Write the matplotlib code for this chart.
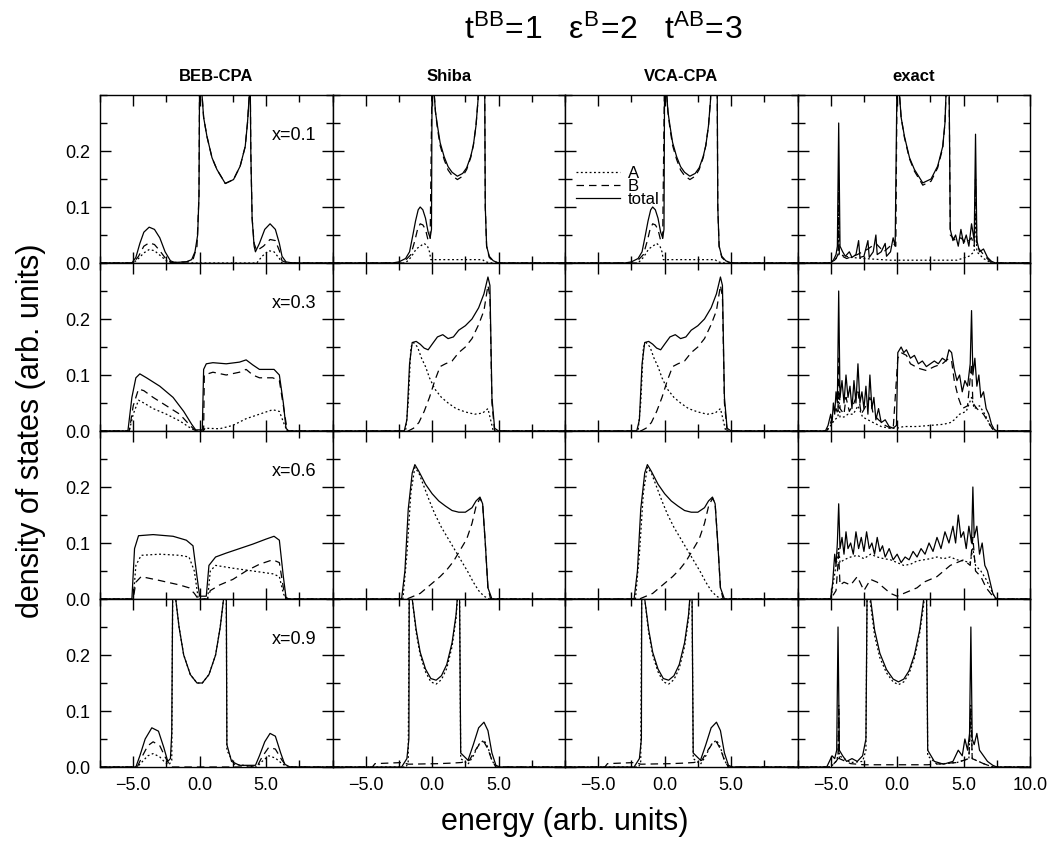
import matplotlib.pyplot as plt
from matplotlib.ticker import MultipleLocator, FixedLocator, NullFormatter

plt.rcParams['font.family'] = ['Liberation Sans', 'DejaVu Sans']
plt.rcParams['mathtext.fontset'] = 'custom'
plt.rcParams['mathtext.rm'] = 'Liberation Sans'
plt.rcParams['mathtext.it'] = 'Liberation Sans'

methods = ['BEB-CPA', 'Shiba', 'VCA-CPA', 'exact']
conc_labels = ['x=0.1', 'x=0.3', 'x=0.6', 'x=0.9']

# density of states, (energy, dos) knots per curve: A, B, total

# --- x = 0.1 ---
beb_01_a = [(-7.5, 0), (-5.0, 0), (-4.6, 0.008), (-4.2, 0.018), (-3.8, 0.024), (-3.4, 0.022),
            (-3.0, 0.014), (-2.5, 0.004), (-2.1, 0), (4.3, 0), (4.7, 0.012), (5.2, 0.022),
            (5.6, 0.02), (6.0, 0.008), (6.2, 0), (10, 0)]
beb_01_b = [(-7.5, 0), (-5.0, 0), (-4.6, 0.012), (-4.2, 0.03), (-3.8, 0.036), (-3.4, 0.033),
            (-3.0, 0.022), (-2.5, 0.006), (-2.1, 0.001), (-1.0, 0.002), (-0.5, 0.006),
            (-0.2, 0.03), (-0.05, 0.12), (0.0, 0.35), (0.18, 0.3), (0.3, 0.26), (0.55, 0.226),
            (0.93, 0.188), (1.3, 0.167), (1.93, 0.142), (2.55, 0.149), (3.05, 0.173),
            (3.43, 0.208), (3.6, 0.25), (3.73, 0.297), (3.8, 0.35), (3.85, 0.2), (3.95, 0.08),
            (4.1, 0.035), (4.3, 0.022), (4.8, 0.03), (5.3, 0.042), (5.7, 0.04), (6.0, 0.022),
            (6.2, 0.004), (6.6, 0), (10, 0)]
beb_01_t = [(-7.5, 0), (-5.1, 0), (-4.8, 0.01), (-4.5, 0.035), (-4.2, 0.055), (-3.8, 0.064),
            (-3.4, 0.06), (-3.0, 0.045), (-2.6, 0.02), (-2.2, 0.004), (-1.9, 0.001),
            (-1.0, 0.002), (-0.6, 0.006), (-0.35, 0.02), (-0.15, 0.05), (-0.05, 0.12),
            (0.0, 0.35), (0.18, 0.3), (0.3, 0.26), (0.55, 0.226), (0.93, 0.188), (1.3, 0.167),
            (1.93, 0.142), (2.55, 0.149), (3.05, 0.173), (3.43, 0.208), (3.6, 0.25),
            (3.73, 0.297), (3.8, 0.35), (3.85, 0.2), (3.95, 0.08), (4.1, 0.03), (4.2, 0.02),
            (4.5, 0.035), (4.9, 0.06), (5.3, 0.07), (5.7, 0.06), (6.0, 0.035), (6.2, 0.012),
            (6.5, 0.002), (7.0, 0), (10, 0)]

shiba_01_a = [(-7.5, 0), (-2.0, 0), (-1.6, 0.01), (-1.2, 0.025), (-0.9, 0.03), (-0.6, 0.035),
              (-0.35, 0.03), (-0.2, 0.02), (-0.1, 0.006), (0.2, 0.006), (3.8, 0.006),
              (4.0, 0.002), (4.5, 0), (10, 0)]
shiba_01_b = [(-7.5, 0), (-2.2, 0), (-1.6, 0.015), (-1.3, 0.04), (-1.1, 0.06), (-0.9, 0.07),
              (-0.7, 0.068), (-0.5, 0.06), (-0.3, 0.04), (-0.15, 0.04), (0.0, 0.35),
              (0.1, 0.32), (0.25, 0.27), (0.4, 0.24), (0.6, 0.21), (0.9, 0.185), (1.2, 0.166),
              (1.5, 0.156), (1.9, 0.149), (2.3, 0.155), (2.6, 0.167), (2.9, 0.188), (3.1, 0.21),
              (3.3, 0.245), (3.45, 0.29), (3.55, 0.35), (3.95, 0.35), (4.0, 0.1), (4.1, 0.03),
              (4.3, 0.01), (4.6, 0.003), (5.0, 0), (10, 0)]
shiba_01_t = [(-7.5, 0), (-3.0, 0), (-2.5, 0.002), (-2.0, 0.008), (-1.7, 0.02), (-1.45, 0.05),
              (-1.25, 0.075), (-1.05, 0.095), (-0.9, 0.1), (-0.7, 0.095), (-0.5, 0.08),
              (-0.3, 0.055), (-0.15, 0.045), (-0.05, 0.06), (0.0, 0.35), (0.1, 0.32),
              (0.25, 0.27), (0.4, 0.245), (0.6, 0.215), (0.9, 0.19), (1.2, 0.172), (1.5, 0.162),
              (1.9, 0.155), (2.3, 0.16), (2.6, 0.17), (2.9, 0.19), (3.1, 0.21), (3.3, 0.245),
              (3.45, 0.29), (3.55, 0.35), (3.95, 0.35), (4.0, 0.1), (4.1, 0.03), (4.3, 0.012),
              (4.6, 0.004), (5.0, 0), (10, 0)]

vca_01_a = shiba_01_a
vca_01_b = shiba_01_b
vca_01_t = shiba_01_t

exact_01_a = [(-7.5, 0), (-5.0, 0), (-4.6, 0.008), (-4.45, 0.015), (-4.4, 0.09), (-4.35, 0.015),
              (-3.5, 0.01), (-2.5, 0.008), (-0.5, 0.005), (4.5, 0.005), (5.4, 0.012),
              (5.8, 0.02), (5.9, 0.09), (6.0, 0.02), (6.5, 0.008), (7.1, 0), (10, 0)]
exact_01_b = [(-7.5, 0), (-4.9, 0), (-4.6, 0.008), (-4.45, 0.015), (-4.4, 0.15), (-4.35, 0.015),
              (-3.8, 0.008), (-3.0, 0.015), (-2.2, 0.025), (-1.6, 0.035), (-1.0, 0.02),
              (-0.3, 0.035), (-0.1, 0.03), (0.0, 0.35), (0.18, 0.3), (0.3, 0.26), (0.55, 0.224),
              (0.93, 0.186), (1.3, 0.164), (1.93, 0.139), (2.55, 0.146), (3.05, 0.17),
              (3.43, 0.205), (3.6, 0.25), (3.75, 0.35), (3.9, 0.35), (4.0, 0.05), (4.4, 0.04),
              (4.8, 0.045), (5.2, 0.035), (5.6, 0.045), (5.8, 0.03), (5.9, 0.15), (6.0, 0.03),
              (6.5, 0.015), (7.1, 0), (10, 0)]
exact_01_t = [(-7.5, 0), (-5.0, 0), (-4.8, 0.005), (-4.6, 0.015), (-4.5, 0.03), (-4.4, 0.25),
              (-4.3, 0.03), (-4.1, 0.02), (-3.9, 0.012), (-3.6, 0.02), (-3.4, 0.01),
              (-3.1, 0.015), (-2.9, 0.04), (-2.8, 0.01), (-2.5, 0.012), (-2.2, 0.04),
              (-2.1, 0.01), (-1.8, 0.02), (-1.6, 0.05), (-1.5, 0.015), (-1.2, 0.02),
              (-0.9, 0.035), (-0.8, 0.012), (-0.5, 0.02), (-0.3, 0.045), (-0.15, 0.03),
              (0.0, 0.35), (0.18, 0.3), (0.3, 0.26), (0.55, 0.226), (0.93, 0.188),
              (1.3, 0.167), (1.93, 0.143), (2.55, 0.15), (3.05, 0.173), (3.43, 0.208),
              (3.6, 0.25), (3.75, 0.35), (3.9, 0.35), (4.0, 0.06), (4.2, 0.04), (4.4, 0.05),
              (4.6, 0.03), (4.8, 0.06), (5.0, 0.035), (5.2, 0.05), (5.4, 0.03), (5.6, 0.07),
              (5.8, 0.04), (5.9, 0.23), (6.0, 0.04), (6.2, 0.02), (6.5, 0.025), (6.8, 0.01),
              (7.1, 0.003), (7.4, 0), (10, 0)]

# --- x = 0.3 ---
beb_03_a = [(-7.5, 0), (-5.3, 0), (-5.0, 0.03), (-4.6, 0.055), (-4.2, 0.05), (-3.5, 0.04),
            (-2.5, 0.03), (-1.5, 0.018), (-0.8, 0.007), (-0.3, 0), (0.3, 0), (0.4, 0.005),
            (1.5, 0.004), (2.5, 0.01), (3.5, 0.022), (4.5, 0.03), (5.5, 0.038), (6.0, 0.035),
            (6.4, 0.01), (6.6, 0), (10, 0)]
beb_03_b = [(-7.5, 0), (-5.3, 0), (-5.0, 0.045), (-4.6, 0.075), (-4.2, 0.072), (-3.5, 0.06),
            (-2.5, 0.045), (-1.5, 0.03), (-0.8, 0.012), (-0.3, 0), (0.3, 0), (0.35, 0.1),
            (1.0, 0.105), (2.0, 0.1), (3.0, 0.105), (3.5, 0.11), (4.0, 0.1), (4.5, 0.095),
            (5.5, 0.095), (6.0, 0.09), (6.4, 0.03), (6.6, 0), (10, 0)]
beb_03_t = [(-7.5, 0), (-5.4, 0), (-5.1, 0.06), (-4.8, 0.095), (-4.5, 0.102), (-4.0, 0.095),
            (-3.0, 0.08), (-2.0, 0.06), (-1.2, 0.035), (-0.6, 0.012), (-0.3, 0.002),
            (0.2, 0.002), (0.3, 0.11), (0.5, 0.12), (1.0, 0.122), (2.0, 0.12), (3.0, 0.123),
            (3.5, 0.127), (4.0, 0.118), (4.5, 0.11), (5.0, 0.11), (5.6, 0.11), (6.0, 0.1),
            (6.3, 0.05), (6.5, 0.005), (6.7, 0), (10, 0)]

shiba_03_a = [(-7.5, 0), (-2.0, 0), (-1.8, 0.05), (-1.6, 0.15), (-1.4, 0.158), (-1.1, 0.15),
              (-0.8, 0.13), (-0.5, 0.115), (-0.2, 0.095), (0.2, 0.075), (0.7, 0.06),
              (1.2, 0.05), (1.8, 0.04), (2.5, 0.034), (3.2, 0.03), (3.8, 0.032), (4.2, 0.04),
              (4.4, 0.02), (4.6, 0), (10, 0)]
shiba_03_b = [(-7.5, 0), (-1.8, 0), (-1.4, 0.005), (-1.0, 0.015), (-0.6, 0.035), (-0.2, 0.06),
              (0.2, 0.09), (0.6, 0.115), (1.0, 0.12), (1.5, 0.125), (2.0, 0.14), (2.5, 0.15),
              (3.0, 0.165), (3.5, 0.19), (3.9, 0.215), (4.2, 0.26), (4.35, 0.24),
              (4.5, 0.05), (4.7, 0), (10, 0)]
shiba_03_t = [(-7.5, 0), (-2.1, 0), (-1.9, 0.02), (-1.7, 0.12), (-1.5, 0.158), (-1.2, 0.16),
              (-0.9, 0.155), (-0.6, 0.148), (-0.3, 0.145), (0.0, 0.155), (0.4, 0.168),
              (0.8, 0.172), (1.2, 0.165), (1.6, 0.168), (2.0, 0.18), (2.5, 0.188),
              (3.0, 0.2), (3.5, 0.22), (3.9, 0.245), (4.2, 0.275), (4.35, 0.26), (4.5, 0.06),
              (4.7, 0.005), (5.0, 0), (10, 0)]

vca_03_a = shiba_03_a
vca_03_b = shiba_03_b
vca_03_t = shiba_03_t

exact_03_a = [(-7.5, 0), (-5.3, 0), (-5.0, 0.01), (-4.7, 0.02), (-4.45, 0.025), (-4.4, 0.07),
              (-4.3, 0.025), (-4.0, 0.025), (-3.7, 0.03), (-3.3, 0.03), (-2.95, 0.045),
              (-2.6, 0.025), (-2.2, 0.02), (-1.8, 0.015), (-1.2, 0.008), (-0.6, 0.005),
              (0.0, 0.005), (0.5, 0.008), (1.5, 0.008), (2.5, 0.01), (3.5, 0.012), (4.0, 0.015),
              (4.3, 0.02), (4.7, 0.03), (5.2, 0.035), (5.6, 0.06), (5.8, 0.04), (6.2, 0.045),
              (6.6, 0.03), (7.0, 0.01), (7.3, 0), (10, 0)]
exact_03_b = [(-7.5, 0), (-5.3, 0), (-5.0, 0.015), (-4.8, 0.03), (-4.6, 0.04), (-4.45, 0.03),
              (-4.4, 0.13), (-4.3, 0.04), (-4.0, 0.03), (-3.85, 0.06), (-3.6, 0.035),
              (-3.25, 0.05), (-2.95, 0.07), (-2.7, 0.03), (-2.35, 0.045), (-2.05, 0.06),
              (-1.8, 0.03), (-1.4, 0.02), (-0.9, 0.01), (-0.3, 0.003), (0.05, 0.13), (0.3, 0.14),
              (0.7, 0.135), (1.0, 0.12), (1.6, 0.112), (2.2, 0.108), (2.8, 0.115), (3.4, 0.12),
              (3.9, 0.13), (4.1, 0.125), (4.3, 0.09), (4.6, 0.06), (4.9, 0.04), (5.3, 0.045),
              (5.6, 0.12), (5.7, 0.05), (6.0, 0.04), (6.5, 0.03), (7.0, 0.01), (7.3, 0),
              (10, 0)]
exact_03_t = [(-7.5, 0), (-5.4, 0), (-5.2, 0.01), (-5.0, 0.03), (-4.9, 0.015), (-4.8, 0.05),
              (-4.7, 0.03), (-4.6, 0.07), (-4.5, 0.05), (-4.4, 0.25), (-4.3, 0.06),
              (-4.15, 0.09), (-4.0, 0.05), (-3.85, 0.1), (-3.7, 0.06), (-3.55, 0.08),
              (-3.4, 0.04), (-3.25, 0.09), (-3.1, 0.05), (-2.95, 0.12), (-2.8, 0.05),
              (-2.65, 0.07), (-2.5, 0.04), (-2.35, 0.08), (-2.2, 0.03), (-2.05, 0.1),
              (-1.9, 0.04), (-1.75, 0.06), (-1.6, 0.02), (-1.4, 0.04), (-1.2, 0.015),
              (-0.9, 0.02), (-0.6, 0.008), (-0.3, 0.005), (-0.05, 0.01), (0.05, 0.14),
              (0.3, 0.15), (0.5, 0.14), (0.7, 0.145), (1.0, 0.13), (1.3, 0.135), (1.6, 0.12),
              (1.9, 0.125), (2.2, 0.115), (2.5, 0.12), (2.8, 0.125), (3.1, 0.12), (3.4, 0.13),
              (3.7, 0.125), (3.9, 0.145), (4.1, 0.14), (4.3, 0.11), (4.5, 0.09), (4.7, 0.1),
              (4.9, 0.07), (5.1, 0.09), (5.3, 0.08), (5.5, 0.12), (5.6, 0.215), (5.7, 0.1),
              (5.85, 0.13), (6.0, 0.08), (6.15, 0.1), (6.3, 0.06), (6.5, 0.07), (6.7, 0.04),
              (6.9, 0.03), (7.1, 0.012), (7.3, 0.003), (7.5, 0), (10, 0)]

# --- x = 0.6 ---
beb_06_a = [(-7.5, 0), (-5.0, 0), (-4.8, 0.06), (-4.4, 0.078), (-3.0, 0.08), (-1.5, 0.078),
            (-0.8, 0.075), (-0.4, 0.05), (-0.1, 0), (0.6, 0), (0.8, 0.05), (1.2, 0.06),
            (2.5, 0.055), (4.0, 0.05), (5.5, 0.045), (6.0, 0.04), (6.3, 0.01), (6.5, 0),
            (10, 0)]
beb_06_b = [(-7.5, 0), (-5.0, 0), (-4.8, 0.03), (-4.4, 0.04), (-3.0, 0.033), (-1.5, 0.025),
            (-0.8, 0.02), (-0.4, 0.01), (-0.1, 0), (0.6, 0), (0.8, 0.015), (1.5, 0.025),
            (2.5, 0.035), (3.5, 0.05), (4.5, 0.062), (5.5, 0.07), (6.0, 0.065), (6.3, 0.02),
            (6.5, 0), (10, 0)]
beb_06_t = [(-7.5, 0), (-5.1, 0), (-4.9, 0.09), (-4.6, 0.113), (-3.5, 0.115), (-2.0, 0.112),
            (-1.0, 0.105), (-0.5, 0.095), (-0.2, 0.04), (0.0, 0.005), (0.5, 0.005),
            (0.7, 0.06), (1.2, 0.075), (2.0, 0.082), (3.0, 0.09), (4.0, 0.098), (5.0, 0.107),
            (5.6, 0.112), (6.0, 0.105), (6.3, 0.04), (6.5, 0.003), (6.7, 0), (10, 0)]

shiba_06_a = [(-7.5, 0), (-2.2, 0), (-1.9, 0.08), (-1.6, 0.19), (-1.3, 0.235), (-1.0, 0.225),
              (-0.6, 0.2), (-0.2, 0.175), (0.2, 0.152), (0.7, 0.128), (1.2, 0.108),
              (1.7, 0.088), (2.2, 0.068), (2.7, 0.048), (3.1, 0.03), (3.5, 0.015), (3.9, 0.005),
              (4.3, 0), (10, 0)]
shiba_06_b = [(-7.5, 0), (-1.9, 0), (-1.4, 0.005), (-0.9, 0.01), (-0.4, 0.02), (0.1, 0.03),
              (0.6, 0.04), (1.1, 0.052), (1.6, 0.067), (2.1, 0.087), (2.6, 0.107), (3.0, 0.135),
              (3.3, 0.165), (3.6, 0.18), (3.8, 0.17), (4.0, 0.1), (4.2, 0.02), (4.4, 0),
              (10, 0)]
shiba_06_t = [(-7.5, 0), (-2.3, 0), (-2.05, 0.05), (-1.8, 0.16), (-1.5, 0.225), (-1.3, 0.24),
              (-1.0, 0.228), (-0.5, 0.205), (0.0, 0.188), (0.5, 0.175), (1.0, 0.166),
              (1.5, 0.158), (2.0, 0.155), (2.5, 0.155), (3.0, 0.163), (3.3, 0.175),
              (3.6, 0.182), (3.8, 0.17), (4.0, 0.1), (4.2, 0.02), (4.5, 0), (10, 0)]

vca_06_a = shiba_06_a
vca_06_b = shiba_06_b
vca_06_t = shiba_06_t

exact_06_a = [(-7.5, 0), (-5.0, 0), (-4.8, 0.03), (-4.6, 0.06), (-4.4, 0.09), (-4.3, 0.065),
              (-4.0, 0.07), (-3.5, 0.075), (-3.0, 0.078), (-2.5, 0.072), (-2.0, 0.08),
              (-1.5, 0.075), (-1.0, 0.072), (-0.5, 0.07), (0.0, 0.065), (0.5, 0.06),
              (1.0, 0.062), (1.5, 0.068), (2.0, 0.07), (2.5, 0.072), (3.0, 0.075),
              (3.5, 0.072), (4.0, 0.075), (4.5, 0.07), (5.0, 0.068), (5.5, 0.065),
              (5.7, 0.09), (5.9, 0.06), (6.3, 0.05), (6.7, 0.035), (7.1, 0.015), (7.4, 0),
              (10, 0)]
exact_06_b = [(-7.5, 0), (-5.0, 0), (-4.6, 0.015), (-4.4, 0.08), (-4.3, 0.025), (-4.0, 0.03),
              (-3.5, 0.025), (-3.0, 0.04), (-2.5, 0.015), (-2.0, 0.035), (-1.5, 0.03),
              (-1.0, 0.02), (-0.5, 0.01), (0.0, 0.005), (0.5, 0.01), (1.0, 0.015), (1.5, 0.02),
              (2.0, 0.03), (2.5, 0.035), (3.0, 0.04), (3.5, 0.05), (4.0, 0.06), (4.5, 0.065),
              (5.0, 0.07), (5.5, 0.06), (5.7, 0.11), (5.9, 0.05), (6.3, 0.04), (6.7, 0.02),
              (7.1, 0.008), (7.4, 0), (10, 0)]
exact_06_t = [(-7.5, 0), (-5.0, 0), (-4.85, 0.03), (-4.7, 0.08), (-4.6, 0.06), (-4.5, 0.1),
              (-4.4, 0.17), (-4.3, 0.09), (-4.15, 0.11), (-4.0, 0.08), (-3.85, 0.12),
              (-3.7, 0.09), (-3.5, 0.1), (-3.3, 0.08), (-3.1, 0.12), (-2.9, 0.09), (-2.7, 0.11),
              (-2.5, 0.085), (-2.3, 0.12), (-2.1, 0.09), (-1.9, 0.1), (-1.7, 0.08),
              (-1.5, 0.11), (-1.3, 0.085), (-1.1, 0.095), (-0.9, 0.075), (-0.6, 0.09),
              (-0.3, 0.07), (0.0, 0.08), (0.3, 0.065), (0.6, 0.075), (0.9, 0.07), (1.2, 0.085),
              (1.5, 0.075), (1.8, 0.09), (2.1, 0.08), (2.4, 0.1), (2.7, 0.085), (3.0, 0.11),
              (3.3, 0.09), (3.6, 0.12), (3.9, 0.1), (4.2, 0.13), (4.4, 0.1), (4.6, 0.15),
              (4.8, 0.11), (5.0, 0.12), (5.2, 0.09), (5.4, 0.13), (5.6, 0.1), (5.7, 0.2),
              (5.8, 0.11), (6.0, 0.13), (6.2, 0.08), (6.4, 0.1), (6.6, 0.06), (6.8, 0.05),
              (7.0, 0.03), (7.2, 0.01), (7.4, 0.002), (7.6, 0), (10, 0)]

# --- x = 0.9 ---
beb_09_a = [(-7.5, 0), (-4.7, 0), (-4.3, 0.01), (-3.9, 0.02), (-3.5, 0.024), (-3.0, 0.018),
            (-2.6, 0.008), (-2.3, 0.004), (-2.1, 0.012), (-2.02, 0.35), (-1.8, 0.3),
            (-1.55, 0.25), (-1.2, 0.2), (-0.7, 0.165), (-0.2, 0.15), (0.2, 0.15),
            (0.7, 0.165), (1.2, 0.2), (1.55, 0.25), (1.8, 0.3), (2.0, 0.35), (2.05, 0.03),
            (2.6, 0.005), (4.3, 0), (4.7, 0.01), (5.2, 0.02), (5.7, 0.016), (6.2, 0.006),
            (6.6, 0), (10, 0)]
beb_09_b = [(-7.5, 0), (-4.7, 0), (-4.3, 0.02), (-3.9, 0.038), (-3.5, 0.045), (-3.0, 0.038),
            (-2.6, 0.018), (-2.3, 0.005), (-2.1, 0), (4.3, 0), (4.7, 0.018), (5.2, 0.035),
            (5.7, 0.032), (6.2, 0.012), (6.6, 0), (10, 0)]
beb_09_t = [(-7.5, 0), (-4.8, 0), (-4.5, 0.02), (-4.1, 0.05), (-3.6, 0.07), (-3.1, 0.064),
            (-2.7, 0.035), (-2.4, 0.01), (-2.2, 0.015), (-2.1, 0.06), (-2.02, 0.35),
            (-1.8, 0.3), (-1.55, 0.25), (-1.2, 0.2), (-0.7, 0.165), (-0.2, 0.15), (0.2, 0.15),
            (0.7, 0.165), (1.2, 0.2), (1.55, 0.25), (1.8, 0.3), (2.0, 0.35), (2.05, 0.04),
            (2.4, 0.01), (3.0, 0.003), (4.2, 0.003), (4.5, 0.02), (4.9, 0.045), (5.3, 0.06),
            (5.7, 0.055), (6.1, 0.025), (6.4, 0.005), (6.8, 0), (10, 0)]

shiba_09_a = [(-7.5, 0), (-1.95, 0), (-1.8, 0.01), (-1.72, 0.35), (-1.5, 0.3), (-1.2, 0.24),
              (-0.9, 0.2), (-0.5, 0.17), (-0.1, 0.152), (0.3, 0.148), (0.7, 0.156),
              (1.1, 0.176), (1.5, 0.215), (1.8, 0.265), (2.05, 0.35), (2.15, 0.015),
              (2.7, 0.005), (3.1, 0.02), (3.5, 0.04), (3.9, 0.048), (4.2, 0.035), (4.5, 0.012),
              (4.8, 0), (10, 0)]
shiba_09_b = [(-7.5, 0), (-4.5, 0), (-4.3, 0.006), (-2.2, 0.008), (-1.8, 0.005), (0.5, 0.006),
              (1.5, 0.007), (2.2, 0.008), (2.8, 0.012), (3.2, 0.028), (3.6, 0.042),
              (3.9, 0.045), (4.2, 0.032), (4.5, 0.012), (4.8, 0), (10, 0)]
shiba_09_t = [(-7.5, 0), (-2.3, 0), (-1.9, 0.015), (-1.75, 0.05), (-1.72, 0.35), (-1.5, 0.3),
              (-1.2, 0.245), (-0.9, 0.205), (-0.5, 0.175), (-0.1, 0.158), (0.3, 0.155),
              (0.7, 0.163), (1.1, 0.183), (1.5, 0.222), (1.8, 0.272), (2.05, 0.35),
              (2.15, 0.025), (2.7, 0.012), (3.1, 0.04), (3.5, 0.07), (3.9, 0.08), (4.2, 0.065),
              (4.5, 0.025), (4.8, 0.003), (5.1, 0), (10, 0)]

vca_09_a = shiba_09_a
vca_09_b = shiba_09_b
vca_09_t = shiba_09_t

exact_09_a = [(-7.5, 0), (-5.0, 0), (-4.6, 0.01), (-4.45, 0.02), (-4.4, 0.11), (-4.35, 0.02),
              (-3.5, 0.008), (-2.6, 0.01), (-2.35, 0.03), (-2.25, 0.35), (-2.0, 0.29),
              (-1.7, 0.235), (-1.3, 0.195), (-0.8, 0.168), (-0.3, 0.152), (0.1, 0.147),
              (0.5, 0.152), (0.9, 0.167), (1.3, 0.195), (1.7, 0.24), (2.0, 0.29), (2.2, 0.35),
              (2.3, 0.02), (3.0, 0.005), (4.5, 0.008), (5.4, 0.015), (5.55, 0.11),
              (5.65, 0.015), (6.5, 0.006), (7.2, 0), (10, 0)]
exact_09_b = [(-7.5, 0), (-5.0, 0), (-4.6, 0.01), (-4.45, 0.015), (-4.4, 0.1), (-4.35, 0.015),
              (-3.5, 0.006), (-2.5, 0.004), (2.3, 0.004), (4.5, 0.008), (5.4, 0.015),
              (5.55, 0.1), (5.65, 0.015), (6.5, 0.006), (7.2, 0), (10, 0)]
exact_09_t = [(-7.5, 0), (-5.3, 0), (-5.1, 0.01), (-4.9, 0.02), (-4.7, 0.015), (-4.55, 0.03),
              (-4.45, 0.25), (-4.35, 0.03), (-4.1, 0.02), (-3.8, 0.01), (-3.4, 0.015),
              (-3.0, 0.01), (-2.6, 0.02), (-2.35, 0.05), (-2.25, 0.35), (-2.0, 0.3),
              (-1.7, 0.245), (-1.3, 0.203), (-0.8, 0.174), (-0.3, 0.157), (0.1, 0.152),
              (0.5, 0.157), (0.9, 0.172), (1.3, 0.2), (1.7, 0.245), (2.0, 0.3), (2.2, 0.35),
              (2.3, 0.03), (2.8, 0.01), (3.5, 0.005), (4.2, 0.01), (4.6, 0.03), (4.9, 0.02),
              (5.1, 0.05), (5.3, 0.03), (5.45, 0.06), (5.55, 0.25), (5.65, 0.05), (5.8, 0.04),
              (6.0, 0.06), (6.2, 0.03), (6.5, 0.02), (6.8, 0.01), (7.2, 0.003), (7.5, 0),
              (10, 0)]

panels = [
    [(beb_01_a, beb_01_b, beb_01_t), (shiba_01_a, shiba_01_b, shiba_01_t),
     (vca_01_a, vca_01_b, vca_01_t), (exact_01_a, exact_01_b, exact_01_t)],
    [(beb_03_a, beb_03_b, beb_03_t), (shiba_03_a, shiba_03_b, shiba_03_t),
     (vca_03_a, vca_03_b, vca_03_t), (exact_03_a, exact_03_b, exact_03_t)],
    [(beb_06_a, beb_06_b, beb_06_t), (shiba_06_a, shiba_06_b, shiba_06_t),
     (vca_06_a, vca_06_b, vca_06_t), (exact_06_a, exact_06_b, exact_06_t)],
    [(beb_09_a, beb_09_b, beb_09_t), (shiba_09_a, shiba_09_b, shiba_09_t),
     (vca_09_a, vca_09_b, vca_09_t), (exact_09_a, exact_09_b, exact_09_t)],
]

fig, axes = plt.subplots(4, 4, figsize=(10.5, 8.42), dpi=100)
fig.subplots_adjust(left=100 / 1050, right=1030 / 1050, top=1 - 95 / 842,
                    bottom=1 - 767 / 842, wspace=0, hspace=0)

styles = {'A': dict(ls=(0, (1.5, 2.0)), lw=0.9),
          'B': dict(ls=(0, (6.0, 4.0)), lw=0.9),
          'total': dict(ls='-', lw=0.9)}

for r in range(4):
    for c in range(4):
        ax = axes[r, c]
        for name, curve in zip(['A', 'B', 'total'], panels[r][c]):
            e, d = zip(*curve)
            ax.plot(e, d, color='black', label=name, **styles[name])
        ax.set_xlim(-7.5, 10)
        ax.set_ylim(0, 0.3)
        ax.xaxis.set_major_locator(FixedLocator([-5, 0, 5, 10]))
        ax.xaxis.set_minor_locator(MultipleLocator(2.5))
        ax.yaxis.set_major_locator(FixedLocator([0.0, 0.1, 0.2]))
        ax.yaxis.set_minor_locator(MultipleLocator(0.05))
        ax.tick_params(which='both', direction='in', top=True, right=True,
                       labelsize=13, width=1.0)
        ax.tick_params(which='major', length=8, pad=7)
        ax.tick_params(which='minor', length=5)
        for s in ax.spines.values():
            s.set_linewidth(1.0)
        if r < 3:
            ax.xaxis.set_major_formatter(NullFormatter())
        else:
            if c < 3:
                ax.set_xticks([-5, 0, 5], ['\u22125.0', '0.0', '5.0'])
            else:
                ax.set_xticks([-5, 0, 5, 10], ['\u22125.0', '0.0', '5.0', '10.0'])
        if c > 0:
            ax.yaxis.set_major_formatter(NullFormatter())
        else:
            ax.set_yticks([0.0, 0.1, 0.2], ['0.0', '0.1', '0.2'])
        if r == 0:
            ax.set_title(methods[c], fontsize=12, fontweight='bold', pad=10)
        if c == 0:
            ax.text(0.93, 0.76, conc_labels[r], transform=ax.transAxes,
                    ha='right', va='center', fontsize=13)

axes[0, 2].legend(loc='upper left', bbox_to_anchor=(0.02, 0.62), frameon=False,
                  fontsize=12, handlelength=2.6, handletextpad=0.5, labelspacing=-0.1,
                  borderaxespad=0)

fig.text(0.575, 1 - 30 / 842,
         r'$\mathregular{t^{BB}\!=\!1\ \ \ \epsilon^{B}\!=\!2\ \ \ t^{AB}\!=\!3}$',
         ha='center', va='center', fontsize=23)
fig.text(0.03, (1 - 95 / 842 + 1 - 767 / 842) / 2, 'density of states (arb. units)',
         rotation=90, ha='center', va='center', fontsize=22)
fig.text((100 + 1030) / 2 / 1050, 1 - 822 / 842, 'energy (arb. units)',
         ha='center', va='center', fontsize=22)

fig.savefig('out.png', dpi=100)
